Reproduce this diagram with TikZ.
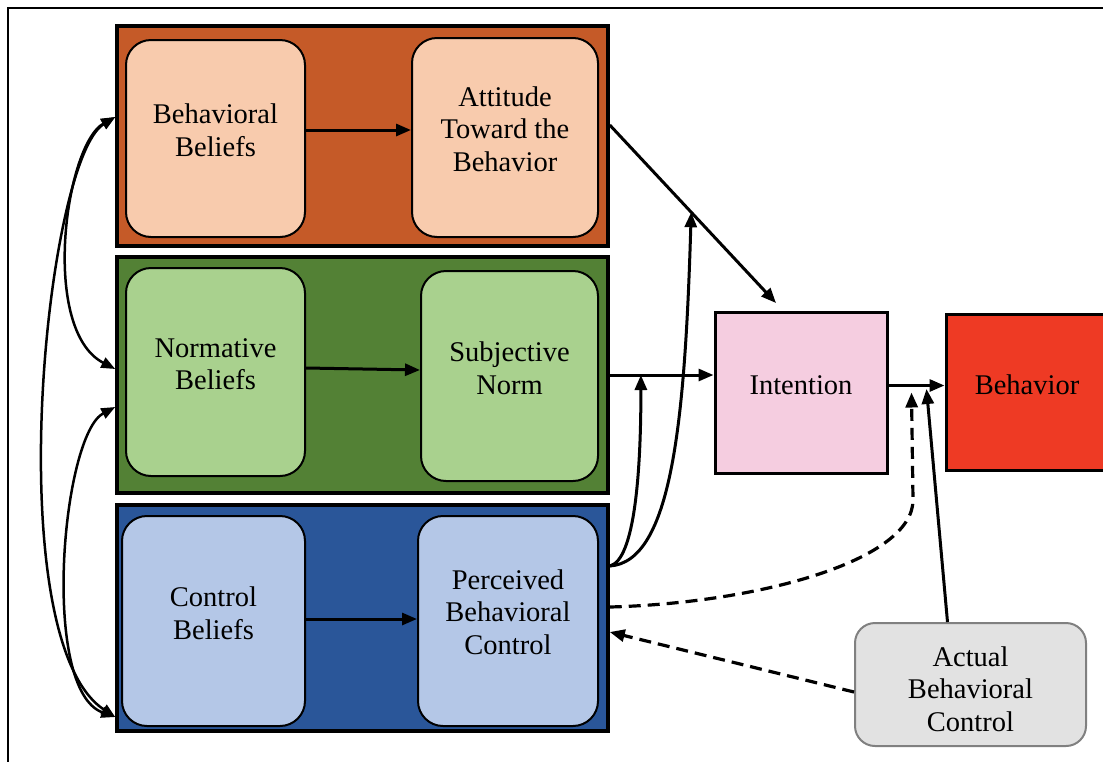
\documentclass[tikz,border=0pt]{standalone}
\usepackage{fontspec}
\setmainfont{Liberation Serif}
\usetikzlibrary{arrows.meta,calc}
\definecolor{orP}{HTML}{C55A28}
\definecolor{peach}{HTML}{F8CBAD}
\definecolor{grP}{HTML}{538135}
\definecolor{ltgreen}{HTML}{A9D18E}
\definecolor{blP}{HTML}{2A5699}
\definecolor{ltblue}{HTML}{B4C7E7}
\definecolor{pinkI}{HTML}{F5CDE0}
\definecolor{redB}{HTML}{EE3A24}
\definecolor{grayA}{HTML}{E2E2E2}
\definecolor{grayB}{HTML}{808080}
\begin{document}
\begin{tikzpicture}[x=1pt,y=-1pt,
  panel/.style={draw=black, line width=3.5pt, inner sep=0pt},
  inbox/.style={draw=black, line width=2pt, rounded corners=25pt, inner sep=0pt},
  sqbox/.style={draw=black, line width=3pt, inner sep=0pt},
  lbl/.style={align=center, font=\fontsize{28.5}{32.5}\selectfont, inner sep=0pt, text=black},
  arr/.style={line width=3pt, -{Triangle[length=15pt,width=12pt]}},
  darr/.style={arr, line width=3.2pt, dash pattern=on 12pt off 7pt},
  larr/.style={line width=2.5pt, {Triangle[length=14pt,width=11pt]}-{Triangle[length=14pt,width=11pt]}}]
\clip (0,0) rectangle (1103,761);
\draw[line width=2pt] (8,765) -- (8,8) -- (1110,8);

% panels
\node[panel, fill=orP, minimum width=491pt, minimum height=220pt] (P1) at (362.5,136) {};
\node[panel, fill=grP, minimum width=491pt, minimum height=236pt] (P2) at (362.5,375) {};
\node[panel, fill=blP, minimum width=491pt, minimum height=226pt] (P3) at (362.5,618) {};

% inner boxes
\node[inbox, fill=peach, minimum width=179pt, minimum height=197pt] (BB) at (215.5,138.5) {};
\node[lbl] (BBt) at ([yshift=8.5pt]BB.center) {Behavioral\\Beliefs};
\node[inbox, fill=peach, minimum width=186pt, minimum height=199pt] (ATB) at (505,137.5) {};
\node[lbl] (ATBt) at ([yshift=8.5pt]ATB.center) {Attitude\\Toward the\\Behavior};

\node[inbox, fill=ltgreen, minimum width=179pt, minimum height=208pt] (NB) at (215.5,372) {};
\node[lbl] (NBt) at ([yshift=8pt]NB.center) {Normative\\Beliefs};
\node[inbox, fill=ltgreen, minimum width=177pt, minimum height=210pt] (SN) at (509.5,376) {};
\node[lbl] (SNt) at ([yshift=8pt]SN.center) {Subjective\\Norm};

\node[inbox, fill=ltblue, minimum width=183pt, minimum height=210pt] (CB) at (213.5,621) {};
\node[lbl] (CBt) at ([yshift=8pt]CB.center) {Control\\Beliefs};
\node[inbox, fill=ltblue, minimum width=180pt, minimum height=210pt] (PBC) at (508,621) {};
\node[lbl] (PBCt) at ([yshift=9pt]PBC.center) {Perceived\\Behavioral\\Control};

% right side
\node[sqbox, fill=pinkI, minimum width=172pt, minimum height=161pt] (INT) at (801,392.5) {};
\node[lbl] (INTt) at ([yshift=7pt]INT.center) {Intention};
\node[sqbox, fill=redB, minimum width=162pt, minimum height=156pt] (BEH) at (1027,392) {};
\node[lbl] (BEHt) at ([yshift=7pt]BEH.center) {Behavior};
\node[draw=grayB, line width=2pt, rounded corners=20pt, fill=grayA, inner sep=0pt,
      minimum width=231pt, minimum height=123pt] (ABC) at (970.5,684.5) {};
\node[lbl] (ABCt) at ([yshift=-4.5pt]ABC.center) {Actual\\Behavioral\\Control};

% inner arrows
\draw[arr] ([yshift=8.5pt]BB.east) -- ([yshift=8.5pt]BB.east -| ATB.west);
\draw[arr] ([yshift=4pt]NB.east) -- ([yshift=6pt]SN.west);
\draw[arr] ([yshift=2pt]CB.east) -- ([yshift=2pt]CB.east -| PBC.west);

% to intention
\draw[arr] ([yshift=11pt]P1.east) coordinate (a0) -- ([xshift=-25pt,yshift=7.5pt]INT.north) coordinate (a1);
\draw[arr] (P2.east) coordinate (s0) -- (P2.east -| INT.west) coordinate (s1);
\coordinate (pbcS) at ([yshift=52pt]P3.east);
\draw[arr] (pbcS) .. controls (635,560) and (641,470) .. ($(s0)!0.3!(s1)$);
\draw[arr] (pbcS) .. controls (672,562) and (685,420) .. ($(a0)!0.49!(a1)$);

% intention -> behavior
\draw[arr] ([yshift=7pt]INT.east) -- ([yshift=7pt]INT.east -| BEH.west);
\draw[darr] ([yshift=11pt]P3.east) .. controls (760,603) and (913,560) .. (913,500) -- ([xshift=23pt]INT.east);
\draw[arr] ([xshift=-23pt]ABC.north) -- ([xshift=38pt,yshift=3.5pt]INT.east);
\draw[darr] ([yshift=-7.5pt]ABC.west) -- ([yshift=-14pt]P3.east);

% left correlations
\draw[larr] ([yshift=19pt]P1.west) .. controls (65,145) and (40,330) .. ([yshift=6pt]P2.west);
\draw[larr] ([yshift=19pt]P1.west) .. controls (45,160) and (-2,640) .. ([yshift=-99pt]P3.west);
\draw[larr] ([yshift=-32pt]P2.west) .. controls (62,435) and (40,690) .. ([yshift=-99pt]P3.west);
\end{tikzpicture}
\end{document}
